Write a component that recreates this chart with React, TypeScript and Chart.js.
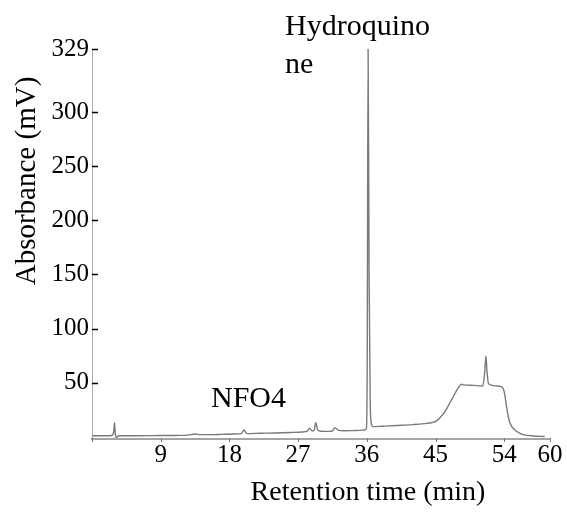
import React, { useEffect, useRef } from 'react';
import { Chart, registerables, LinearScale } from 'chart.js';

// ---- data ----
const TIME_MIN = [
  0, 1.5, 2.6, 2.85, 2.95, 3.05, 3.2, 3.4, 3.7,
  6, 9, 11, 12.5, 13.5, 14.2, 15.5, 17, 18.5, 19.6,
  19.9, 20.3, 22, 24, 26, 27.5, 28.2, 28.5, 28.8, 29.1,
  29.3, 29.6, 30, 31, 31.5, 31.8, 32.3, 33, 34, 35,
  35.7, 35.95, 36.05, 36.17, 36.3, 36.45, 36.6, 36.8, 38, 40,
  42, 43.5, 44.7, 45.2, 45.7, 46.2, 46.7, 47.2, 47.7, 48.1, 48.4, 48.7, 50,
  51.2, 51.45, 51.6, 51.75, 51.95, 53, 53.6, 53.9, 54.1, 54.3, 54.5, 54.7,
  55.0, 55.4, 56, 56.5, 57.8, 59.3,
];
const SIGNAL_MV = [
  1.0, 1.0, 1.2, 5, 13, 3, -0.5, 0.6, 1.0,
  1.0, 1.2, 1.3, 1.6, 2.6, 2.0, 2.0, 2.3, 2.6, 3.0,
  6.3, 3.0, 3.3, 3.6, 4.0, 4.4, 5.2, 8, 5.5, 6,
  13, 6, 5.2, 5.0, 5.4, 8.5, 6.0, 5.6, 5.7, 6.0,
  6.3, 8, 60, 329, 150, 30, 12, 9.4, 9.8, 10.5,
  11.3, 12.2, 13.5, 15, 18.5, 23, 29, 35.5, 42, 46.5, 48.5, 48, 47.5,
  47, 60, 74.5, 60, 49, 47, 46.3, 44, 38, 28, 20, 14,
  9.5, 6.3, 3.5, 2, 0.8, 0.3,
];
const X_TICKS = [9, 18, 27, 36, 45, 54, 60];
const Y_TICKS = [50, 100, 150, 200, 250, 300, 329];
const X_TITLE = 'Retention time (min)';
const Y_TITLE = 'Absorbance (mV)';
const PEAK_NAME_LINES = ['Hydroquino', 'ne'];
const SAMPLE_NAME = 'NFO4';

const SERIF = "'Liberation Serif', 'Times New Roman', serif";

// Linear axis with a separate segment above a break value
// (the reference's top tick "329" sits above the regular 50-step spacing).
class BreakLinearScale extends LinearScale {
  static id = 'breakLinear';
  static defaults = LinearScale.defaults;
  _toDec(v: number) {
    const o: any = this.options;
    const b = o.breakAt, f = o.breakFraction;
    const min = this.min, max = this.max;
    if (v <= b) return ((v - min) / (b - min)) * f;
    return f + ((v - b) / (max - b)) * (1 - f);
  }
  _fromDec(d: number) {
    const o: any = this.options;
    const b = o.breakAt, f = o.breakFraction;
    const min = this.min, max = this.max;
    if (d <= f) return min + (d / f) * (b - min);
    return b + ((d - f) / (1 - f)) * (max - b);
  }
  getPixelForValue(value: any) {
    if (value === null || value === undefined || isNaN(value)) return NaN;
    return this.getPixelForDecimal(this._toDec(value));
  }
  getValueForPixel(pixel: number) {
    return this._fromDec(this.getDecimalForPixel(pixel));
  }
}

Chart.register(...registerables, BreakLinearScale as any);

const decorPlugin = {
  id: 'decor',
  afterDraw(chart: any) {
    const { ctx, chartArea, scales } = chart;
    ctx.save();
    // inward y tick dashes
    ctx.strokeStyle = '#000';
    ctx.lineWidth = 1.5;
    scales.y.ticks.forEach((t: any) => {
      const py = Math.round(scales.y.getPixelForValue(t.value)) + 0.5;
      ctx.beginPath();
      ctx.moveTo(chartArea.left, py);
      ctx.lineTo(chartArea.left + 6, py);
      ctx.stroke();
    });
    // small x tick marks
    ctx.strokeStyle = '#777';
    ctx.lineWidth = 1;
    [0, ...X_TICKS].forEach((v) => {
      const px = Math.round(scales.x.getPixelForValue(v)) + 0.5;
      ctx.beginPath();
      ctx.moveTo(px, chartArea.bottom - 1);
      ctx.lineTo(px, chartArea.bottom + 3);
      ctx.stroke();
    });
    ctx.fillStyle = '#000';
    // y title
    ctx.font = `29px ${SERIF}`;
    ctx.textAlign = 'center';
    ctx.textBaseline = 'alphabetic';
    ctx.save();
    ctx.translate(35, 181);
    ctx.rotate(-Math.PI / 2);
    ctx.fillText(Y_TITLE, 0, 0);
    ctx.restore();
    // x title
    ctx.font = `28px ${SERIF}`;
    ctx.fillText(X_TITLE, 368, 500);
    // annotations
    ctx.font = `30px ${SERIF}`;
    ctx.textAlign = 'left';
    ctx.fillText(PEAK_NAME_LINES[0], 285, 35);
    ctx.fillText(PEAK_NAME_LINES[1], 285, 73);
    ctx.fillText(SAMPLE_NAME, 211, 407);
    ctx.restore();
  },
};

export default function App() {
  const ref = useRef<HTMLCanvasElement | null>(null);
  useEffect(() => {
    if (!ref.current) return;
    const points = TIME_MIN.map((t, i) => ({ x: t, y: SIGNAL_MV[i] }));
    const chart = new Chart(ref.current, {
      type: 'line',
      data: {
        datasets: [
          {
            data: points,
            borderColor: '#7a7a7a',
            borderWidth: 1.4,
            pointRadius: 0,
            cubicInterpolationMode: 'monotone',
            fill: false,
          },
        ],
      },
      options: {
        animation: false,
        responsive: false,
        maintainAspectRatio: false,
        layout: { padding: { top: 49, right: 17, bottom: 0, left: 0 } },
        plugins: { legend: { display: false }, tooltip: { enabled: false } },
        scales: {
          x: {
            type: 'linear',
            min: 0,
            max: 60,
            afterBuildTicks: (s: any) => {
              s.ticks = X_TICKS.map((v) => ({ value: v }));
            },
            afterFit: (s: any) => {
              s.height = 76;
            },
            grid: { display: false, drawTicks: false },
            border: { display: true, color: '#a5a5a5', width: 2 },
            ticks: {
              autoSkip: false,
              maxRotation: 0,
              padding: 1,
              color: '#000',
              font: { family: SERIF, size: 25 },
              callback: (v: any) => String(v),
            },
          },
          y: {
            type: 'breakLinear' as any,
            min: -2,
            max: 329,
            breakAt: 300,
            breakFraction: 0.8385,
            afterBuildTicks: (s: any) => {
              s.ticks = Y_TICKS.map((v) => ({ value: v }));
            },
            afterFit: (s: any) => {
              s.width = 92;
            },
            grid: { display: false, drawTicks: false },
            border: { display: true, color: '#aaaaaa', width: 1 },
            ticks: {
              autoSkip: false,
              padding: 3,
              color: '#000',
              font: { family: SERIF, size: 25 },
              callback: (v: any) => String(v),
            },
          } as any,
        },
      },
      plugins: [decorPlugin],
    });
    return () => chart.destroy();
  }, []);
  return (
    <div style={{ position: 'fixed', left: 0, top: 0, width: 567, height: 515, background: '#fff' }}>
      <canvas ref={ref} width={567} height={515} style={{ width: 567, height: 515, display: 'block' }} />
    </div>
  );
}
